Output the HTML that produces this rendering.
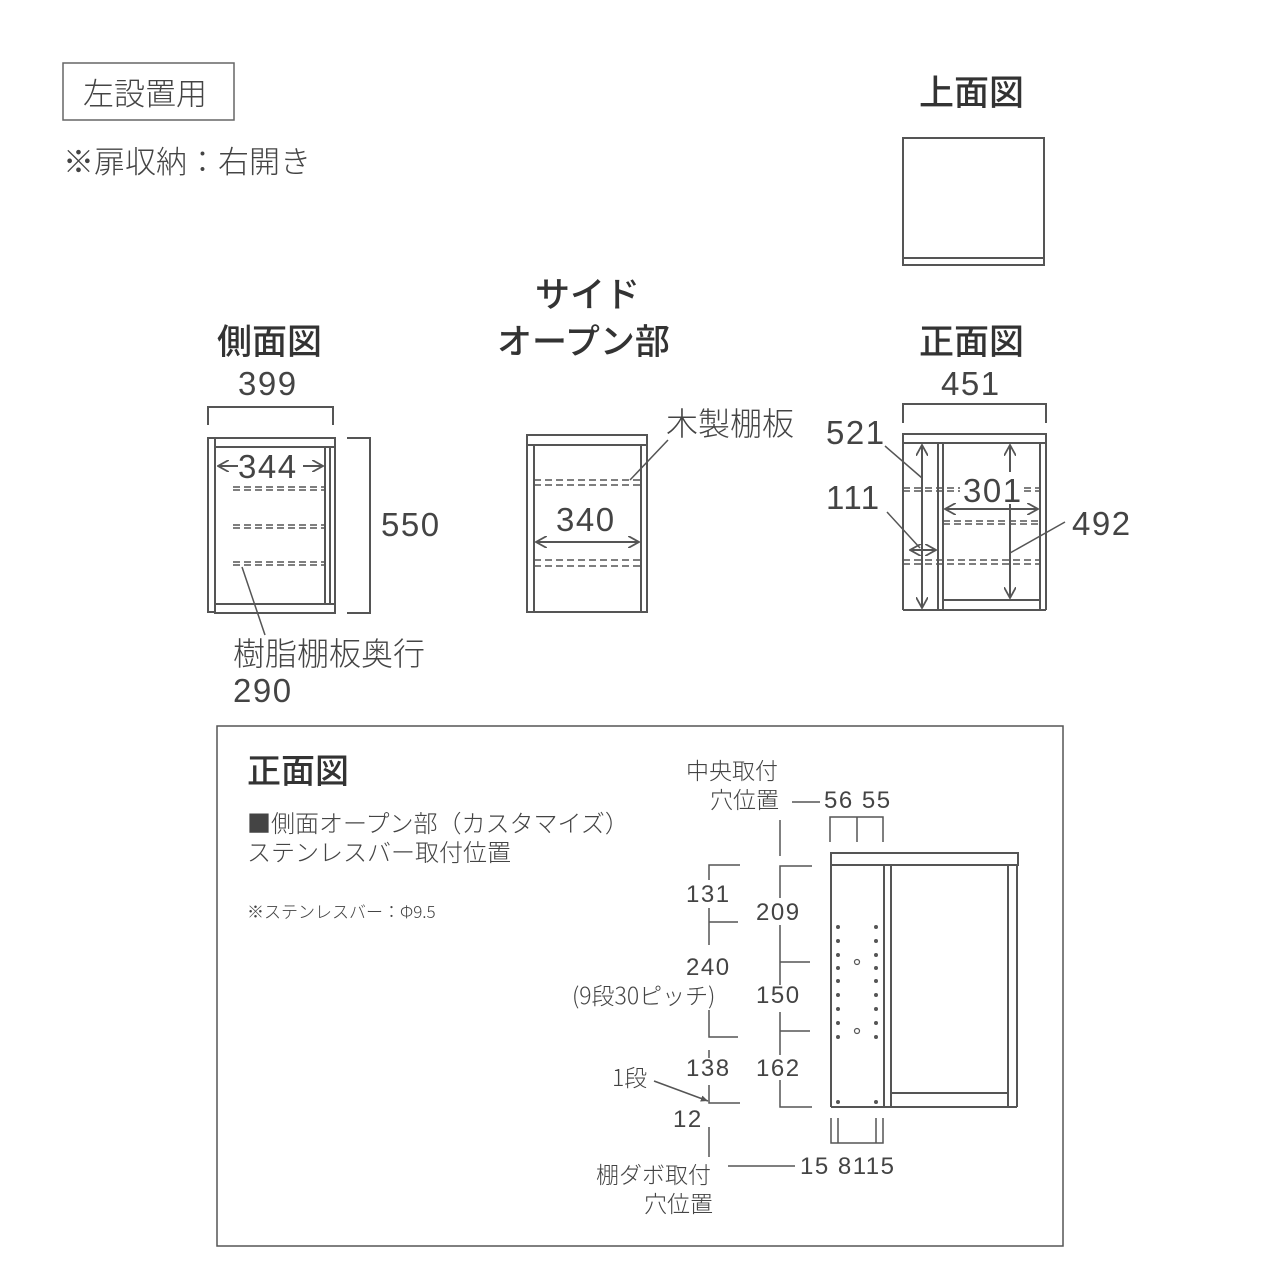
<!DOCTYPE html>
<html><head><meta charset="utf-8"><style>
html,body{margin:0;padding:0;background:#fff}
svg{display:block}
text{font-family:"Liberation Sans","Noto Sans CJK JP",sans-serif;fill:#444;stroke:none;font-weight:normal;letter-spacing:1.5px}
.j{font-family:"Noto Sans CJK JP",sans-serif;font-weight:300;letter-spacing:0}
.h{font-family:"Noto Sans CJK JP",sans-serif;font-weight:500;fill:#333;letter-spacing:0}
</style></head><body>
<svg width="1280" height="1280" viewBox="0 0 1280 1280" xmlns="http://www.w3.org/2000/svg" fill="none" stroke="#555" stroke-width="2">
<defs>
<marker id="a" viewBox="0 0 10 10" refX="9" refY="5" markerWidth="12" markerHeight="12" orient="auto-start-reverse" markerUnits="userSpaceOnUse"><path d="M0,0 L9,5 L0,10" fill="none" stroke="#555" stroke-width="1.5"/></marker>
<marker id="s" viewBox="0 0 10 10" refX="9" refY="5" markerWidth="8" markerHeight="8" orient="auto" markerUnits="userSpaceOnUse"><path d="M0,1 L9,5 L0,9z" fill="#555" stroke="none"/></marker>
</defs>

<rect x="63" y="63" width="171" height="57" stroke="#666" stroke-width="1.5"/>
<text class="j" x="83" y="105" font-size="31">左設置用</text>
<text class="j" x="63" y="173" font-size="31" letter-spacing="1.5">※扉収納：右開き</text>

<text class="h" x="919" y="105" font-size="35">上面図</text>
<rect x="903" y="138" width="141" height="127"/>
<line x1="903" y1="258" x2="1044" y2="258"/>

<text class="h" x="217" y="354" font-size="35">側面図</text>
<text class="h" x="535" y="307" font-size="35">サイド</text>
<text class="h" x="497" y="354" font-size="35">オープン部</text>
<text class="h" x="919" y="354" font-size="35">正面図</text>

<!-- side view -->
<text x="238" y="395" font-size="33">399</text>
<path d="M208,425 V407 H333 V425"/>
<rect x="208" y="438" width="7" height="174"/>
<rect x="215" y="438" width="120" height="9"/>
<rect x="215" y="604" width="120" height="9"/>
<line x1="215" y1="447" x2="215" y2="604"/>
<line x1="325" y1="447" x2="325" y2="604"/>
<line x1="330" y1="447" x2="330" y2="604"/>
<line x1="335" y1="447" x2="335" y2="604"/>
<path d="M347,438 H370 V613 H347"/>
<text x="381" y="536" font-size="33">550</text>
<g stroke-dasharray="7,4" stroke-width="1.5">
<line x1="233" y1="487" x2="325" y2="487"/><line x1="233" y1="490" x2="325" y2="490"/>
<line x1="233" y1="525" x2="325" y2="525"/><line x1="233" y1="528" x2="325" y2="528"/>
<line x1="233" y1="562" x2="325" y2="562"/><line x1="233" y1="565" x2="325" y2="565"/>
</g>
<line x1="218" y1="466" x2="238" y2="466" marker-start="url(#a)"/>
<line x1="303" y1="466" x2="323" y2="466" marker-end="url(#a)"/>
<text x="238" y="478" font-size="33" letter-spacing="0">344</text>
<line x1="242" y1="567" x2="265" y2="635" stroke-width="1.5"/>
<text class="j" x="233" y="665" font-size="32">樹脂棚板奥行</text>
<text x="233" y="702" font-size="33">290</text>

<!-- side open -->
<rect x="527" y="435" width="120" height="177"/>
<line x1="527" y1="445" x2="647" y2="445"/>
<line x1="534" y1="445" x2="534" y2="612"/>
<line x1="641" y1="445" x2="641" y2="612"/>
<g stroke-dasharray="7,4" stroke-width="1.5">
<line x1="534" y1="480" x2="641" y2="480"/><line x1="534" y1="485" x2="641" y2="485"/>
<line x1="534" y1="560" x2="641" y2="560"/><line x1="534" y1="566" x2="641" y2="566"/>
</g>
<line x1="536" y1="542" x2="639" y2="542" marker-start="url(#a)" marker-end="url(#a)"/>
<text x="556" y="531" font-size="33">340</text>
<line x1="630" y1="480" x2="668" y2="440" stroke-width="1.5"/>
<text class="j" x="666" y="435" font-size="32">木製棚板</text>

<!-- front view -->
<text x="941" y="395" font-size="33">451</text>
<path d="M903,423 V404 H1046 V423"/>
<rect x="903" y="434" width="143" height="9"/>
<line x1="903" y1="443" x2="903" y2="610"/>
<line x1="938" y1="443" x2="938" y2="610"/>
<line x1="943" y1="443" x2="943" y2="610"/>
<line x1="1040" y1="443" x2="1040" y2="610"/>
<line x1="1046" y1="443" x2="1046" y2="610"/>
<line x1="903" y1="610" x2="1046" y2="610"/>
<line x1="943" y1="600" x2="1040" y2="600"/>
<g stroke-dasharray="7,4" stroke-width="1.5">
<line x1="903" y1="488" x2="960" y2="488"/><line x1="903" y1="491" x2="960" y2="491"/>
<line x1="1024" y1="488" x2="1040" y2="488"/><line x1="1024" y1="491" x2="1040" y2="491"/>
<line x1="943" y1="521" x2="1040" y2="521"/><line x1="943" y1="524" x2="1040" y2="524"/>
<line x1="903" y1="560" x2="1040" y2="560"/><line x1="903" y1="564" x2="1040" y2="564"/>
</g>
<line x1="922" y1="445" x2="922" y2="608" marker-start="url(#a)" marker-end="url(#a)"/>
<line x1="1010" y1="445" x2="1010" y2="472" marker-start="url(#a)"/>
<line x1="1010" y1="504" x2="1010" y2="598" marker-end="url(#a)"/>
<text x="963" y="502" font-size="33" letter-spacing="0">301</text>
<line x1="945" y1="509" x2="1038" y2="509" marker-start="url(#a)" marker-end="url(#a)"/>
<line x1="910" y1="550" x2="936" y2="550" marker-start="url(#a)" marker-end="url(#a)"/>
<line x1="885" y1="446" x2="922" y2="478" stroke-width="1.5"/>
<line x1="887" y1="512" x2="920" y2="548" stroke-width="1.5"/>
<line x1="1010" y1="553" x2="1065" y2="522" stroke-width="1.5"/>
<text x="826" y="444" font-size="33">521</text>
<text x="826" y="509" font-size="33">111</text>
<text x="1072" y="535" font-size="33">492</text>

<!-- detail panel -->
<rect x="217" y="726" width="846" height="520" stroke="#555" stroke-width="1.5"/>
<text class="h" x="247" y="783" font-size="34">正面図</text>
<text class="j" x="247" y="832" font-size="24">■側面オープン部（カスタマイズ）</text>
<text class="j" x="247" y="861" font-size="24">ステンレスバー取付位置</text>
<text class="j" x="247" y="918" font-size="17">※ステンレスバー：Φ9.5</text>

<text class="j" x="686" y="779" font-size="23">中央取付</text>
<text class="j" x="710" y="808" font-size="23">穴位置</text>
<line x1="792" y1="802" x2="820" y2="802" stroke-width="1.5"/>
<text x="824" y="808" font-size="24" letter-spacing="0.5">56 55</text>
<path d="M830,842 V817 H883 V842 M857,817 V842" stroke-width="1.5"/>

<rect x="831" y="853" width="187" height="12"/>
<line x1="831" y1="865" x2="831" y2="1107"/>
<line x1="884" y1="865" x2="884" y2="1107"/>
<line x1="891" y1="865" x2="891" y2="1107"/>
<line x1="1008" y1="865" x2="1008" y2="1107"/>
<line x1="1017" y1="865" x2="1017" y2="1107"/>
<line x1="831" y1="1107" x2="1017" y2="1107"/>
<line x1="891" y1="1093" x2="1008" y2="1093"/>
<g fill="#555" stroke="none">
<circle cx="838" cy="927" r="2"/><circle cx="838" cy="941" r="2"/><circle cx="838" cy="955" r="2"/><circle cx="838" cy="968" r="2"/><circle cx="838" cy="981" r="2"/><circle cx="838" cy="995" r="2"/><circle cx="838" cy="1009" r="2"/><circle cx="838" cy="1023" r="2"/><circle cx="838" cy="1037" r="2"/>
<circle cx="876" cy="927" r="2"/><circle cx="876" cy="941" r="2"/><circle cx="876" cy="955" r="2"/><circle cx="876" cy="968" r="2"/><circle cx="876" cy="981" r="2"/><circle cx="876" cy="995" r="2"/><circle cx="876" cy="1009" r="2"/><circle cx="876" cy="1023" r="2"/><circle cx="876" cy="1037" r="2"/>
<circle cx="838" cy="1102" r="2"/><circle cx="876" cy="1102" r="2"/>
</g>
<circle cx="857" cy="962" r="2.5" stroke-width="1.2"/>
<circle cx="857" cy="1031" r="2.5" stroke-width="1.2"/>
<path d="M831,1118 V1143 H883 V1118 M838,1118 V1143 M876,1118 V1143" stroke-width="1.5"/>

<g stroke-width="1.5">
<line x1="780" y1="820" x2="780" y2="856"/>
<path d="M812,866 H780 V898 M780,925 V985 M780,1012 V1055 M780,1080 V1107 H812 M780,962 H810 M780,1031 H810"/>
<path d="M740,865 H709 V880 M709,908 V945 M709,922 H738 M709,1010 V1037 H738 M709,1050 V1058 M709,1085 V1103 H740 M709,1127 V1157"/>
</g>
<text x="756" y="920" font-size="24">209</text>
<text x="756" y="1003" font-size="24">150</text>
<text x="756" y="1076" font-size="24">162</text>
<text x="686" y="902" font-size="24">131</text>
<text x="686" y="975" font-size="24">240</text>
<text class="j" x="572" y="1004" font-size="23">(9段30ピッチ)</text>
<text x="686" y="1076" font-size="24">138</text>
<text class="j" x="612" y="1086" font-size="23">1段</text>
<line x1="654" y1="1081" x2="708" y2="1101" stroke-width="1.5" marker-end="url(#s)"/>
<text x="673" y="1127" font-size="24">12</text>
<text class="j" x="596" y="1183" font-size="23">棚ダボ取付</text>
<text class="j" x="644" y="1212" font-size="23">穴位置</text>
<line x1="728" y1="1166" x2="795" y2="1166" stroke-width="1.5"/>
<text x="800" y="1174" font-size="24" letter-spacing="0.5">15 8115</text>
</svg>
</body></html>
